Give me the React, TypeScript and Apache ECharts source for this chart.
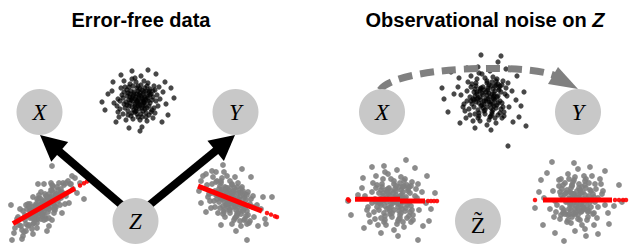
import React, { useEffect, useRef } from "react";
import * as echarts from "echarts";

// ---------- data (pixel-unit offsets from each cloud's centre, y upward) ----------
const titles = ["Error-free data", "Observational noise on "];
const titleItalic = "Z";
const nodeLabels = ["X", "Y", "Z", "X", "Y", "Z\u0303"];

const cloudTopLeft: number[][] = [
[2,-5],[-8,3],[11,7],[-3,-12],[6,1],[-14,-4],[0,9],[9,-8],[-5,14],[15,3],
[-1,-2],[4,-17],[-11,10],[7,12],[-18,-9],[3,4],[-6,-7],[12,-3],[-2,18],[8,-13],
[-9,0],[1,-9],[17,10],[-4,6],[5,-1],[-13,13],[10,2],[-7,-16],[0,0],[14,-10],
[-16,5],[3,15],[-3,-4],[20,-6],[-10,-11],[6,8],[-1,12],[9,4],[-20,1],[2,-20],
[11,-15],[-5,-1],[7,-5],[-12,-2],[4,10],[-8,16],[16,14],[-2,-8],[13,6],[-15,-14],
[1,5],[-6,2],[8,0],[-3,22],[22,1],[-9,-6],[5,-11],[-24,-3],[10,17],[-1,-14],
[3,-2],[-7,9],[15,-18],[-11,4],[0,-6],[6,19],[-17,12],[12,11],[-4,-10],[9,-21],
[-2,3],[18,-1],[-13,-8],[4,2],[-6,-13],[2,11],[-10,7],[7,-9],[-19,-17],[14,0],
[-3,1],[1,-4],[25,8],[-8,-3],[5,6],[-14,19],[11,-6],[-5,-19],[0,14],[19,5],
[-21,-6],[8,9],[-1,-1],[3,-14],[-9,13],[13,-12],[-4,8],[6,-3],[-12,-20],[16,-8],
[-7,0],[2,7],[-15,2],[10,-1],[-2,-11],[7,3],[-26,9],[4,-8],[-6,21],[21,13],
[-10,-15],[1,2],[12,5],[-3,-6],[9,14],[-18,-1],[5,-6],[-8,6],[15,9],[0,-17],
[-5,4],[3,24],[-11,-5],[8,-17],[-1,6],[17,-13],[-14,8],[6,-2],[-20,-12],[11,9],
[28,-4],[-30,6],[4,-27],[-6,29],[33,12],[-9,-28],[24,-22],[-25,18],[2,-31],[36,2],
[-33,-10],[18,26],[-17,25],[27,18],[-22,-22],[10,30],[-36,-2],[30,-15]
];

const cloudBottomLeftA: number[][] = [
[-2,2],[10,2],[-14,-12],[5,12],[-8,-13],[17,14],[1,-10],[-12,-1],[7,4],[-19,-9],
[4,-6],[-5,8],[14,16],[-9,-10],[22,10],[0,1],[8,16],[-16,-20],[2,-13],[-10,-5],
[12,11],[-3,-8],[-21,-5],[6,9],[-7,-17],[16,1],[-13,-4],[9,20],[-1,-3],[-18,-18],
[20,21],[-4,1],[4,0],[-25,-19],[13,8],[-8,2],[1,3],[-11,-18],[26,22],[-3,14],
[-14,2],[7,-1],[-9,-6],[15,11],[-6,-13],[10,-7],[-20,-26],[3,9],[-16,-10],[19,23],
[0,-5],[8,9],[-10,-13],[5,-12],[-27,-13],[11,0],[-6,5],[29,17],[-12,-23],[1,12],
[-4,-4],[9,14],[-18,1],[14,5],[-1,5],[-7,-22],[21,2],[-15,-19],[6,5],[-11,9],
[2,-2],[-23,-20],[17,17],[-5,-2],[8,21],[-3,-13],[12,-1],[-9,0],[24,25],[-17,-3],
[1,5],[-2,-10],[-30,-27],[10,8],[-7,-9],[18,-7],[-14,-5],[7,23],[0,-14],[-22,-24],
[27,22],[-10,-17],[0,2],[-5,11],[11,-4],[-16,2],[5,-3],[-8,0],[15,23],[-19,-14],
[9,3],[-2,0],[19,13],[-12,-12],[2,10],[-9,-8],[33,13],[-6,-7],[8,-14],[-26,-11],
[13,19],[-1,-8],[-15,-1],[4,8],[-11,-28],[22,23],[-7,7],[10,-3],[-18,-25],[8,40],
[5,-20],[-13,-10],[12,12],[-3,7],[17,8],[-21,-30],[7,16],[-29,-22],[31,28],[-33,1],
[-32,-34],[36,23],[25,3],[-24,-3],[3,-25],[-6,22],[40,7],[28,30],[-22,-33],[0,22]
];

const cloudBottomRightA: number[][] = [
[3,-5],[-9,9],[12,-7],[-2,-11],[7,6],[-15,4],[1,14],[10,-15],[-6,4],[16,-12],
[-3,11],[5,-18],[-12,-3],[8,0],[-19,15],[0,-1],[-7,-11],[14,5],[-1,18],[9,-6],
[-10,1],[2,6],[19,-22],[-5,-6],[6,12],[-14,18],[12,-12],[-8,-15],[1,3],[15,-1],
[-17,-2],[4,-8],[-4,7],[22,-8],[-11,7],[7,-14],[-2,-2],[10,7],[-22,5],[3,-21],
[13,-21],[-6,12],[8,-5],[-13,5],[5,9],[-9,21],[17,7],[-3,-8],[14,-9],[-16,-8],
[0,6],[-7,-2],[9,2],[-4,23],[23,-18],[-10,16],[6,-15],[-24,14],[11,12],[-1,-14],
[4,-1],[-8,-7],[16,-25],[-12,10],[1,-8],[7,16],[-18,22],[13,3],[-5,0],[10,-27],
[-3,4],[19,-5],[-14,0],[5,-6],[-7,-13],[3,11],[-11,13],[8,-12],[-20,-9],[15,-17],
[-2,-5],[2,8],[26,-6],[-9,3],[6,1],[-15,27],[12,-10],[-6,-18],[1,15],[20,0],
[-23,2],[9,6],[0,-3],[4,-19],[-10,18],[14,-20],[-5,11],[7,-8],[-13,-14],[17,-16],
[-8,4],[3,4],[-16,8],[11,-4],[-1,-11],[8,-2],[-28,23],[5,-11],[-7,27],[22,3],
[-11,-9],[2,-2],[13,1],[-4,-5],[10,10],[-19,6],[6,-17],[-9,0],[16,4],[1,-25],
[-6,9],[4,22],[-12,3],[9,-22],[-2,9],[18,-24],[-15,17],[7,-3],[-21,-2],[12,8],
[30,-10],[-30,18],[5,-32],[-8,34],[34,-20],[-10,-26],[27,-27],[-25,25],[16,-41],[41,2],
[-32,8],[20,22],[-19,28],[32,2],[-25,-13],[11,30],[-30,-4],[35,-25]
];

const cloudTopRight: number[][] = [
[3,-4],[-9,6],[12,2],[-2,-13],[7,9],[-15,-3],[1,15],[10,-10],[-6,1],[16,-5],
[-3,11],[5,-18],[-12,-9],[8,4],[-19,7],[0,-1],[-7,-15],[14,12],[-1,20],[9,-2],
[-10,-4],[2,8],[18,-14],[-5,-8],[6,16],[-14,14],[11,-7],[-8,-20],[1,3],[15,6],
[-17,-11],[4,-6],[-4,5],[21,2],[-11,2],[7,-12],[-2,-3],[10,13],[-22,-6],[3,-22],
[12,-17],[-6,9],[8,-1],[-13,-1],[5,12],[-9,19],[17,17],[-3,-10],[14,-3],[-16,-17],
[0,6],[-7,-5],[9,7],[-4,24],[23,-9],[-10,12],[6,-14],[-25,3],[11,19],[-1,-16],
[4,1],[-8,-12],[16,-20],[-12,6],[1,-9],[7,21],[-18,16],[13,10],[-5,-2],[10,-25],
[-3,3],[19,4],[-14,-6],[5,-4],[-7,-18],[3,13],[-11,9],[8,-8],[-20,-20],[15,-11],
[-2,-6],[2,10],[26,7],[-9,-1],[6,4],[-15,22],[12,-5],[-6,-23],[1,17],[20,10],
[-23,-9],[9,12],[0,-3],[4,-19],[-10,15],[14,-15],[-5,10],[7,-6],[-13,-23],[17,-9],
[-8,0],[3,5],[-16,1],[11,1],[-1,-12],[8,2],[-28,11],[5,-10],[-7,25],[22,15],
[-11,-16],[2,-1],[13,8],[-4,-7],[10,17],[-19,-3],[6,-16],[-9,4],[16,13],[1,-27],
[-6,7],[4,27],[-12,-2],[9,-20],[-2,8],[18,-18],[-15,11],[7,0],[-21,-13],[12,14],
[30,-2],[-32,4],[5,-32],[-8,31],[35,-8],[-11,-30],[27,-24],[-27,20],[22,-48],[38,6],
[-38,-14],[20,29],[-19,30],[31,22],[-26,-25],[12,36],[-42,-1],[33,-19],[-35,26],[40,-28],
[-44,10],[15,42],[-5,43]
];

const cloudBottomLeftB: number[][] = [
[4,-3],[-10,7],[13,3],[-3,-14],[8,10],[-17,-2],[1,16],[12,-11],[-7,2],[18,-6],
[-4,12],[6,-19],[-14,-10],[9,5],[-21,8],[0,-1],[-8,-16],[16,13],[-2,21],[10,-2],
[-12,-5],[3,9],[20,-15],[-6,-9],[7,17],[-16,15],[13,-8],[-9,-22],[2,3],[17,7],
[-19,-12],[5,-7],[-5,6],[24,2],[-13,1],[8,-13],[-2,-4],[11,14],[-25,-7],[4,-24],
[14,-18],[-7,10],[9,-1],[-15,-2],[6,13],[-10,21],[19,18],[-3,-11],[16,-3],[-18,-19],
[0,7],[-8,-6],[10,8],[-5,26],[26,-10],[-11,13],[7,-15],[-28,4],[12,21],[-1,-17],
[5,1],[-9,-13],[18,-22],[-14,7],[1,-10],[8,23],[-20,17],[15,11],[-6,-2],[11,-27],
[-3,4],[22,4],[-16,-7],[6,-4],[-8,-20],[3,14],[-12,10],[9,-9],[-23,-22],[17,-12],
[-2,-7],[2,11],[29,8],[-10,-1],[7,4],[-17,24],[14,-5],[-7,-25],[1,19],[23,11],
[-26,-10],[10,13],[0,-3],[5,-21],[-11,16],[16,-16],[-5,11],[8,-6],[-15,-25],[19,-10],
[-9,0],[3,5],[-18,1],[12,1],[-1,-13],[9,2],[-31,12],[6,-11],[-8,28],[25,16],
[-12,-18],[2,-1],[15,9],[-4,-8],[11,19],[-21,-3],[7,-18],[-10,4],[18,14],[1,-30],
[-6,8],[4,30],[-13,-3],[10,-22],[-2,9],[20,-20],[-17,12],[8,0],[-24,-15],[14,15],
[33,-3],[-35,5],[5,-36],[-9,34],[38,-9],[-12,-33],[30,-26],[-30,22],[25,-40],[42,7],
[-42,-15],[22,32],[-21,33],[34,24],[-29,-28],[13,40],[-45,-1],[36,-21]
];

const cloudBottomRightB: number[][] = [
[-3,4],[9,-6],[-12,-2],[4,13],[-7,-10],[16,3],[0,-15],[-11,10],[6,-1],[-17,5],
[3,-12],[-5,18],[13,9],[-8,-5],[20,-7],[1,1],[7,15],[-15,-13],[2,-20],[-9,2],
[11,4],[-3,-9],[-19,14],[5,8],[-6,-17],[15,-14],[-12,7],[8,21],[-1,-3],[-16,-8],
[18,11],[-4,6],[4,-5],[-23,-1],[12,-2],[-7,12],[1,3],[-10,-15],[24,6],[-3,23],
[-13,17],[6,-9],[-8,1],[14,1],[-5,-14],[9,-20],[-18,-19],[2,10],[-15,2],[17,16],
[0,-8],[7,5],[-9,-9],[4,-25],[-25,9],[10,-12],[-6,14],[27,-5],[-11,-22],[1,16],
[-4,-2],[8,12],[-17,21],[13,-7],[-1,9],[-7,-23],[19,-18],[-14,-12],[5,1],[-10,26],
[2,-4],[-21,-5],[15,6],[-5,3],[7,19],[-3,-14],[11,-11],[-8,8],[22,21],[-16,11],
[1,5],[-2,-12],[-28,-9],[9,1],[-6,-5],[16,-25],[-13,6],[6,24],[0,-19],[-22,-12],
[25,9],[-9,-14],[0,2],[-4,20],[10,-17],[-15,15],[4,-11],[-7,7],[14,24],[-18,8],
[8,-1],[-2,-6],[17,-2],[-11,-1],[1,12],[-8,-3],[30,-13],[-5,6],[7,-29],[-24,-17],
[11,17],[-1,2],[-14,-10],[3,7],[-10,-20],[20,2],[-6,15],[9,-10],[-17,-15],[0,31],
[5,-7],[-3,-31],[12,10],[-9,21],[1,-10],[-19,20],[16,-13],[-7,0],[23,16],[-13,-14],
[-34,2],[36,-6],[-4,37],[8,-36],[-39,8],[12,33],[-31,27],[31,-24],[-26,38],[-43,-8],
[41,15],[-23,-33],[20,-34],[-35,-25],[27,29],[-14,-41],[44,-2],[-37,20]
];

// regression predictions (red)
const fitBottomLeftA: number[][] = [[-31,-17.7],[31,17.7]];
const fitDotsBottomLeftA: number[][] = [[36,20.5],[40,22.8],[43,24.5]];
const fitBottomRightA: number[][] = [[-33,12.9],[31,-12.1]];
const fitDotsBottomRightA: number[][] = [[36,-14],[40,-15.6],[44,-17.2],[46,-18]];
const fitBottomLeftB1: number[][] = [[-38,0.7],[7,0.7]];
const fitBottomLeftB2: number[][] = [[7,-1],[32,-1]];
const fitDotsBottomLeftB: number[][] = [[-45,0.7],[-44,-0.5],[35,-1],[38,-1],[41,-1],[44,-1]];
const fitBottomRightB: number[][] = [[-35,0],[34,0]];
const fitDotsBottomRightB: number[][] = [[-43,0],[37,0],[41,0],[45,0],[48,0]];

// ---------- layout ----------
const W = 631, H = 247;
const HW = 60, HH = 55;
const BLACK = "#000000", GREY = "#808080", RED = "#ff0000", NODE = "#c8c8c8";

export default function App() {
  const ref = useRef<HTMLDivElement>(null);
  useEffect(() => {
    document.body.style.margin = "0";
    const chart = echarts.init(ref.current!, undefined, { renderer: "svg", width: W, height: H });

    const clouds = [
      { cx: 138, cy: 100, data: cloudTopLeft, color: BLACK, opacity: 0.72, size: 5.2 },
      { cx: 44, cy: 206, data: cloudBottomLeftA, color: GREY, opacity: 0.9, size: 5.8 },
      { cx: 231, cy: 199, data: cloudBottomRightA, color: GREY, opacity: 0.9, size: 5.8 },
      { cx: 486, cy: 98, data: cloudTopRight, color: BLACK, opacity: 0.72, size: 5.2 },
      { cx: 393, cy: 200, data: cloudBottomLeftB, color: GREY, opacity: 0.9, size: 5.8 },
      { cx: 578, cy: 200, data: cloudBottomRightB, color: GREY, opacity: 0.9, size: 5.8 },
    ];
    // keep each grid inside the canvas; axis ranges follow the grid's extent
    const boxes = clouds.map((c) => {
      const l = Math.max(0, c.cx - HW), r = Math.min(W, c.cx + HW);
      const t = Math.max(0, c.cy - HH), b = Math.min(H, c.cy + HH);
      return { l, r, t, b, xmin: l - c.cx, xmax: r - c.cx, ymin: c.cy - b, ymax: c.cy - t };
    });
    const grid = boxes.map((g) => ({ left: g.l, top: g.t, width: g.r - g.l, height: g.b - g.t, containLabel: false }));
    const xAxis = boxes.map((g, i) => ({ type: "value", gridIndex: i, min: g.xmin, max: g.xmax, show: false }));
    const yAxis = boxes.map((g, i) => ({ type: "value", gridIndex: i, min: g.ymin, max: g.ymax, show: false }));

    const series: any[] = clouds.map((c, i) => ({
      type: "scatter", xAxisIndex: i, yAxisIndex: i, data: c.data, clip: false,
      symbolSize: c.size, itemStyle: { color: c.color, opacity: c.opacity }, z: 2, silent: true,
    }));
    const fitLine = (i: number, data: number[][]) => ({
      type: "line", xAxisIndex: i, yAxisIndex: i, data, symbol: "none", clip: false,
      lineStyle: { color: RED, width: 5 }, z: 5, silent: true,
    });
    const fitDots = (i: number, data: number[][]) => ({
      type: "scatter", xAxisIndex: i, yAxisIndex: i, data, symbolSize: 4.5, clip: false,
      itemStyle: { color: RED, opacity: 0.9 }, z: 5, silent: true,
    });
    series.push(fitLine(1, fitBottomLeftA), fitDots(1, fitDotsBottomLeftA));
    series.push(fitLine(2, fitBottomRightA), fitDots(2, fitDotsBottomRightA));
    series.push(fitLine(4, fitBottomLeftB1), fitLine(4, fitBottomLeftB2), fitDots(4, fitDotsBottomLeftB));
    series.push(fitLine(5, fitBottomRightB), fitDots(5, fitDotsBottomRightB));

    const arrow = (sx: number, sy: number, tx: number, ty: number, len: number, half: number, width: number, color: string) => {
      const dx = tx - sx, dy = ty - sy;
      const L = Math.hypot(dx, dy);
      const ux = dx / L, uy = dy / L;
      const nx = -uy, ny = ux;
      const bx = tx - ux * len, by = ty - uy * len;
      return [
        { type: "line", z: 100, shape: { x1: sx, y1: sy, x2: bx + ux * 2, y2: by + uy * 2 }, style: { stroke: color, lineWidth: width } },
        { type: "polygon", z: 100, shape: { points: [[tx, ty], [bx + nx * half, by + ny * half], [bx - nx * half, by - ny * half]] }, style: { fill: color } },
      ];
    };

    const nodes = [
      { x: 39.5, y: 112 }, { x: 235.5, y: 112 }, { x: 135.5, y: 221 },
      { x: 382, y: 112 }, { x: 578, y: 112 }, { x: 478, y: 221 },
    ];
    const nodeEls: any[] = [];
    nodes.forEach((n, i) => {
      nodeEls.push({ type: "circle", z: 110, shape: { cx: n.x, cy: n.y, r: 23 }, style: { fill: NODE } });
      const tilde = i === 5;
      nodeEls.push({
        type: "text", z: 120,
        style: {
          text: nodeLabels[i], x: n.x, y: tilde ? n.y + 4 : n.y, align: "center", verticalAlign: "middle",
          font: (tilde ? "" : "italic ") + (tilde ? "24px" : "23px") + ' "Liberation Serif"', fill: "#000",
        },
      });
    });

    const graphic: any[] = [
      ...arrow(124, 207, 40, 135, 26, 13, 8, BLACK),
      ...arrow(147, 207, 235, 135, 25, 13, 8, BLACK),
      {
        type: "bezierCurve", z: 100,
        shape: { x1: 380, y1: 90, cpx1: 397, cpy1: 66, cpx2: 528, cpy2: 63, x2: 556, y2: 76 },
        style: { stroke: GREY, lineWidth: 7, lineDash: [14, 8], fill: null },
      },
      { type: "polygon", z: 100, shape: { points: [[558, 67], [578, 89], [548, 84]] }, style: { fill: GREY } },
      ...nodeEls,
      {
        type: "text", z: 120,
        style: { text: titles[0], x: 141, y: 20, align: "center", verticalAlign: "middle", font: 'bold 20px "Liberation Sans"', fill: "#000" },
      },
      {
        type: "text", z: 120,
        style: {
          text: "{a|" + titles[1] + "}{b|" + titleItalic + "}", x: 485, y: 20, align: "center", verticalAlign: "middle",
          rich: {
            a: { fontSize: 20, fontWeight: "bold", fontFamily: "Liberation Sans", fill: "#000" },
            b: { fontSize: 20, fontWeight: "bold", fontStyle: "italic", fontFamily: "Liberation Sans", fill: "#000" },
          },
        },
      },
    ];

    chart.setOption({
      animation: false,
      backgroundColor: "#ffffff",
      grid, xAxis, yAxis, series, graphic,
    });
    return () => chart.dispose();
  }, []);
  return <div ref={ref} style={{ width: W, height: H, position: "absolute", left: 0, top: 0 }} />;
}
